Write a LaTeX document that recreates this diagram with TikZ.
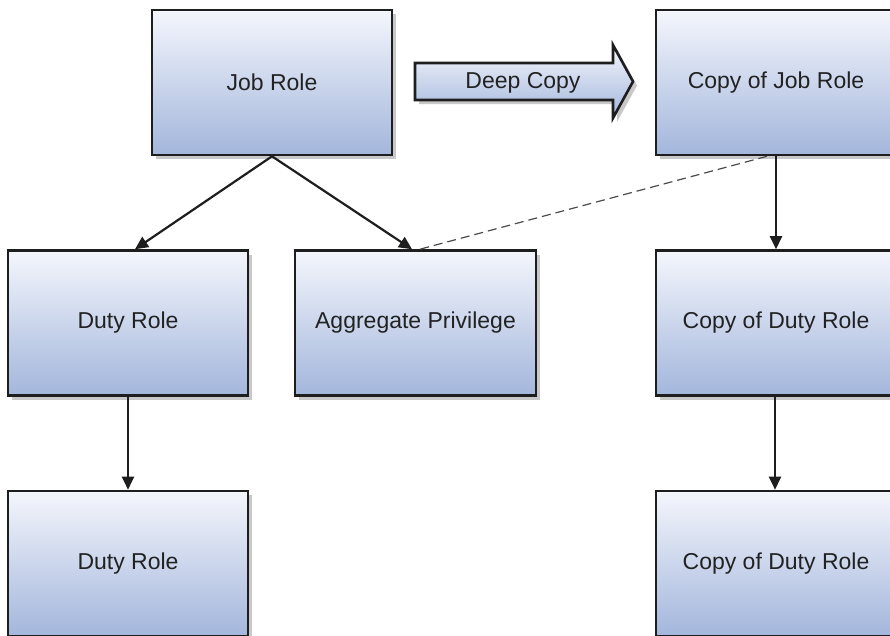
\documentclass[tikz,border=0pt]{standalone}
\usepackage{fontspec}
\setmainfont{Liberation Sans}
\usetikzlibrary{arrows.meta,shadows}
\definecolor{boxtop}{HTML}{F4F6FC}
\definecolor{boxbot}{HTML}{A3B6DC}
\definecolor{edge}{HTML}{1E1E1E}
\definecolor{txt}{HTML}{222222}
\tikzset{
  rolebox/.style={rectangle, draw=edge, line width=2.6pt, minimum width=240pt, minimum height=145pt,
    top color=boxtop, bottom color=boxbot, text=txt, font=\fontsize{23}{27}\selectfont,
    drop shadow={shadow xshift=4pt, shadow yshift=-4pt, opacity=0.3, fill=black!70}, inner sep=0pt},
  link/.style={draw=edge, line width=2.2pt, -{Triangle[length=13pt,width=12pt]}},
  copylink/.style={draw=edge!80, line width=1.2pt, dash pattern=on 9pt off 5pt},
  bigarrow/.style={draw=edge, line width=2.6pt, top color=boxtop, bottom color=boxbot, line join=miter,
    drop shadow={shadow xshift=4pt, shadow yshift=-4pt, opacity=0.3, fill=black!70}}
}
\begin{document}
\begin{tikzpicture}[x=1pt,y=-1pt]
\useasboundingbox (0,0) rectangle (890,635);
\clip (0,0) rectangle (890,635);
\fill[white] (0,0) rectangle (890,635);
% boxes
\node[rolebox] (jr) at (272,82.5) {Job Role};
\node[rolebox] (cjr) at (776,82.5) {Copy of Job Role};
\node[rolebox] (dr1) at (128,323) {Duty Role};
\node[rolebox, minimum width=241pt] (ap) at (415.5,323) {Aggregate Privilege};
\node[rolebox] (cdr1) at (776,323) {Copy of Duty Role};
\node[rolebox] (dr2) at (128,563.5) {Duty Role};
\node[rolebox] (cdr2) at (776,563.5) {Copy of Duty Role};
% deep copy arrow
\path[bigarrow] (415,63) -- (613,63) -- (613,45) -- (633,81.5) -- (613,118) -- (613,100) -- (415,100) -- cycle;
\node[text=txt, font=\fontsize{23}{27}\selectfont, inner sep=0pt] (dc) at (523,82.5) {Deep Copy};
% connectors
\draw[copylink] ([xshift=-9pt]cjr.south) -- ([xshift=4.5pt]ap.north);
\draw[link] (jr.south) -- ([xshift=7pt]dr1.north);
\draw[link] (jr.south) -- ([xshift=-3.5pt]ap.north);
\draw[link] (cjr.south) -- (cdr1.north);
\draw[link] (dr1.south) -- (dr2.north);
\draw[link] ([xshift=-1pt]cdr1.south) -- ([xshift=-1pt]cdr2.north);
\end{tikzpicture}
\end{document}
